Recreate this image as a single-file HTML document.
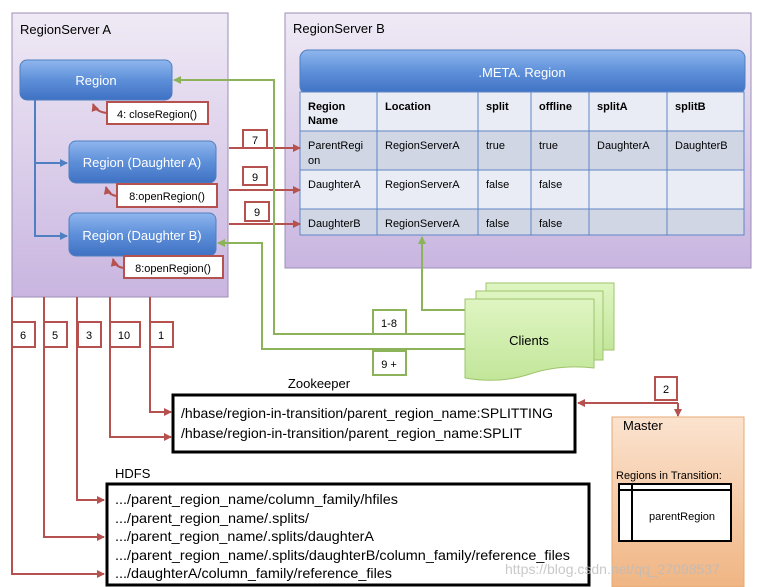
<!DOCTYPE html>
<html><head><meta charset="utf-8"><style>
html,body{margin:0;padding:0;background:#fff;}
svg{display:block;font-family:"Liberation Sans",sans-serif;}
</style></head><body>
<svg width="758" height="587" viewBox="0 0 758 587" xmlns="http://www.w3.org/2000/svg">
<defs>
<linearGradient id="purp" x1="0" y1="0" x2="0" y2="1"><stop offset="0" stop-color="#efeaf5"/><stop offset="1" stop-color="#c9b5e0"/></linearGradient>
<linearGradient id="blue" x1="0" y1="0" x2="0" y2="1"><stop offset="0" stop-color="#8fb6ee"/><stop offset="0.5" stop-color="#5d8fd9"/><stop offset="1" stop-color="#3f71c4"/></linearGradient>
<linearGradient id="green" x1="0" y1="0" x2="0" y2="1"><stop offset="0" stop-color="#dff5c2"/><stop offset="1" stop-color="#c2e69a"/></linearGradient>
<linearGradient id="orange" x1="0" y1="0" x2="0" y2="1"><stop offset="0" stop-color="#fbe3cf"/><stop offset="1" stop-color="#f0b583"/></linearGradient>
<marker id="ar" markerWidth="8" markerHeight="8" refX="7" refY="4" orient="auto" markerUnits="userSpaceOnUse"><path d="M0,0 L8,4 L0,8 z" fill="#b5524f"/></marker>
<marker id="ag" markerWidth="8" markerHeight="8" refX="7" refY="4" orient="auto" markerUnits="userSpaceOnUse"><path d="M0,0 L8,4 L0,8 z" fill="#8db35a"/></marker>
<marker id="ab" markerWidth="8" markerHeight="8" refX="7" refY="4" orient="auto" markerUnits="userSpaceOnUse"><path d="M0,0 L8,4 L0,8 z" fill="#4f7fc0"/></marker>
</defs>

<rect x="12" y="13" width="216" height="284" fill="url(#purp)" stroke="#9c8fb8"/>
<text x="20" y="34" font-size="13">RegionServer A</text>
<path d="M35,100 V236 H67" fill="none" stroke="#4f7fc0" stroke-width="2" marker-end="url(#ab)"/>
<path d="M35,163 H67" fill="none" stroke="#4f7fc0" stroke-width="2" marker-end="url(#ab)"/>
<rect x="20" y="60" width="152" height="40" rx="7" fill="url(#blue)" stroke="#4f7fc0"/>
<text x="96" y="85" font-size="13" fill="#fff" text-anchor="middle">Region</text>
<rect x="69" y="141" width="147" height="42" rx="7" fill="url(#blue)" stroke="#4f7fc0"/>
<text x="142" y="167" font-size="13" fill="#fff" text-anchor="middle">Region (Daughter A)</text>
<rect x="69" y="213" width="147" height="43" rx="7" fill="url(#blue)" stroke="#4f7fc0"/>
<text x="142" y="240" font-size="13" fill="#fff" text-anchor="middle">Region (Daughter B)</text>
<path d="M107,113 Q96,112 93,104" fill="none" stroke="#b5524f" stroke-width="2" marker-end="url(#ar)"/>
<rect x="107" y="102" width="101" height="22" fill="#fff" stroke="#b5524f" stroke-width="2"/>
<text x="157" y="118" font-size="11" text-anchor="middle">4: closeRegion()</text>
<path d="M117,196 Q108,195 106,187" fill="none" stroke="#b5524f" stroke-width="2" marker-end="url(#ar)"/>
<rect x="117" y="184" width="100" height="23" fill="#fff" stroke="#b5524f" stroke-width="2"/>
<text x="167" y="200" font-size="11" text-anchor="middle">8:openRegion()</text>
<path d="M124,268 Q115,267 113,259" fill="none" stroke="#b5524f" stroke-width="2" marker-end="url(#ar)"/>
<rect x="124" y="256" width="99" height="22" fill="#fff" stroke="#b5524f" stroke-width="2"/>
<text x="173" y="272" font-size="11" text-anchor="middle">8:openRegion()</text>

<rect x="285" y="13" width="466" height="255" fill="url(#purp)" stroke="#9c8fb8"/>
<text x="293" y="33" font-size="13">RegionServer B</text>
<rect x="300" y="50" width="445" height="44" rx="8" fill="url(#blue)" stroke="#4f7fc0"/>
<text x="522" y="77" font-size="13" fill="#fff" text-anchor="middle">.META. Region</text>
<g stroke="#5f86c4" stroke-width="1">
<rect x="300" y="92" width="444" height="39" fill="#e9ecf5"/>
<rect x="300" y="131" width="444" height="39" fill="#d0d6e4"/>
<rect x="300" y="170" width="444" height="39" fill="#e9ecf5"/>
<rect x="300" y="209" width="444" height="26" fill="#d0d6e4"/>
<path d="M377,92V235M478,92V235M531,92V235M589,92V235M667,92V235"/>
</g>
<g font-size="11">
<text x="308" y="110" font-weight="bold">Region</text><text x="308" y="124" font-weight="bold">Name</text>
<text x="385" y="110" font-weight="bold">Location</text>
<text x="486" y="110" font-weight="bold">split</text>
<text x="539" y="110" font-weight="bold">offline</text>
<text x="597" y="110" font-weight="bold">splitA</text>
<text x="675" y="110" font-weight="bold">splitB</text>
<text x="308" y="149">ParentRegi</text><text x="308" y="164">on</text>
<text x="385" y="149">RegionServerA</text><text x="486" y="149">true</text><text x="539" y="149">true</text>
<text x="597" y="149">DaughterA</text><text x="675" y="149">DaughterB</text>
<text x="308" y="188">DaughterA</text><text x="385" y="188">RegionServerA</text><text x="486" y="188">false</text><text x="539" y="188">false</text>
<text x="308" y="227">DaughterB</text><text x="385" y="227">RegionServerA</text><text x="486" y="227">false</text><text x="539" y="227">false</text>
</g>

<g stroke="#b5524f" stroke-width="2" fill="none">
<path d="M229,148 H300" marker-end="url(#ar)"/>
<path d="M229,190 H300" marker-end="url(#ar)"/>
<path d="M229,224 H300" marker-end="url(#ar)"/>
</g>
<g font-size="11">
<rect x="243" y="130" width="24" height="18" fill="#fff" stroke="#b5524f" stroke-width="2"/><text x="255" y="144" text-anchor="middle">7</text>
<rect x="243" y="167" width="24" height="18" fill="#fff" stroke="#b5524f" stroke-width="2"/><text x="255" y="181" text-anchor="middle">9</text>
<rect x="245" y="202" width="24" height="19" fill="#fff" stroke="#b5524f" stroke-width="2"/><text x="257" y="216" text-anchor="middle">9</text>
</g>

<g stroke="#8db35a" stroke-width="2" fill="none">
<path d="M465,334 H274 V80 H174" marker-end="url(#ag)"/>
<path d="M465,349 H262 V243 H218" marker-end="url(#ag)"/>
<path d="M465,310 H422 V237" marker-end="url(#ag)"/>
</g>
<g stroke="#9fc46b" stroke-width="1">
<path d="M486,283 H614 V350 H486 Z" fill="url(#green)"/>
<path d="M476,291 H603 V360 H476 Z" fill="url(#green)"/>
<path d="M465,299 H594 V368 Q560,364 530,374 Q500,384 465,378 Z" fill="url(#green)"/>
</g>
<text x="529" y="345" font-size="13" text-anchor="middle">Clients</text>
<g font-size="11">
<rect x="373" y="310" width="33" height="24" fill="#fff" stroke="#8db35a" stroke-width="2"/><text x="389" y="327" text-anchor="middle">1-8</text>
<rect x="373" y="351" width="33" height="24" fill="#fff" stroke="#8db35a" stroke-width="2"/><text x="389" y="368" text-anchor="middle">9 +</text>
</g>

<g stroke="#b5524f" stroke-width="2" fill="none">
<path d="M150,297 V412 H171" marker-end="url(#ar)"/>
<path d="M110,297 V437 H171" marker-end="url(#ar)"/>
<path d="M77,297 V500 H104" marker-end="url(#ar)"/>
<path d="M44,297 V537 H104" marker-end="url(#ar)"/>
<path d="M12,297 V574 H104" marker-end="url(#ar)"/>
<path d="M678,403 H578" marker-end="url(#ar)"/>
<path d="M678,403 V416" marker-end="url(#ar)"/>
</g>
<g font-size="11">
<rect x="12" y="322" width="23" height="25" fill="#fff" stroke="#b5524f" stroke-width="2"/><text x="23" y="339" text-anchor="middle">6</text>
<rect x="44" y="322" width="23" height="25" fill="#fff" stroke="#b5524f" stroke-width="2"/><text x="55" y="339" text-anchor="middle">5</text>
<rect x="78" y="322" width="23" height="25" fill="#fff" stroke="#b5524f" stroke-width="2"/><text x="89" y="339" text-anchor="middle">3</text>
<rect x="110" y="322" width="30" height="25" fill="#fff" stroke="#b5524f" stroke-width="2"/><text x="124" y="339" text-anchor="middle">10</text>
<rect x="150" y="322" width="23" height="25" fill="#fff" stroke="#b5524f" stroke-width="2"/><text x="161" y="339" text-anchor="middle">1</text>
<rect x="655" y="377" width="22" height="23" fill="#fff" stroke="#b5524f" stroke-width="2"/><text x="666" y="393" text-anchor="middle">2</text>
</g>

<text x="319" y="388" font-size="13" text-anchor="middle">Zookeeper</text>
<rect x="173" y="395" width="402" height="57" fill="#fff" stroke="#000" stroke-width="3"/>
<text x="181" y="418" font-size="14" textLength="372" lengthAdjust="spacingAndGlyphs">/hbase/region-in-transition/parent_region_name:SPLITTING</text>
<text x="181" y="438" font-size="14" textLength="341" lengthAdjust="spacingAndGlyphs">/hbase/region-in-transition/parent_region_name:SPLIT</text>

<text x="115" y="478" font-size="13">HDFS</text>
<rect x="107" y="484" width="482" height="101" fill="#fff" stroke="#000" stroke-width="3"/>
<g font-size="14">
<text x="115" y="504" textLength="283" lengthAdjust="spacingAndGlyphs">.../parent_region_name/column_family/hfiles</text>
<text x="115" y="523" textLength="194" lengthAdjust="spacingAndGlyphs">.../parent_region_name/.splits/</text>
<text x="115" y="541" textLength="259" lengthAdjust="spacingAndGlyphs">.../parent_region_name/.splits/daughterA</text>
<text x="115" y="560" textLength="455" lengthAdjust="spacingAndGlyphs">.../parent_region_name/.splits/daughterB/column_family/reference_files</text>
<text x="115" y="578" textLength="277" lengthAdjust="spacingAndGlyphs">.../daughterA/column_family/reference_files</text>
</g>

<rect x="612" y="417" width="132" height="170" fill="url(#orange)" stroke="#e8a873"/>
<text x="623" y="430" font-size="13">Master</text>
<text x="616" y="479" font-size="11">Regions in Transition:</text>
<rect x="619" y="484" width="112" height="57" fill="#fff" stroke="#000" stroke-width="2"/>
<path d="M619,490 H731 M632,484 V541" stroke="#000" stroke-width="2"/>
<text x="682" y="520" font-size="11" text-anchor="middle">parentRegion</text>
<text x="505" y="574" font-size="14" fill="#bbbbbb" fill-opacity="0.8">https://blog.csdn.net/qq_27098537</text>
</svg>
</body></html>
